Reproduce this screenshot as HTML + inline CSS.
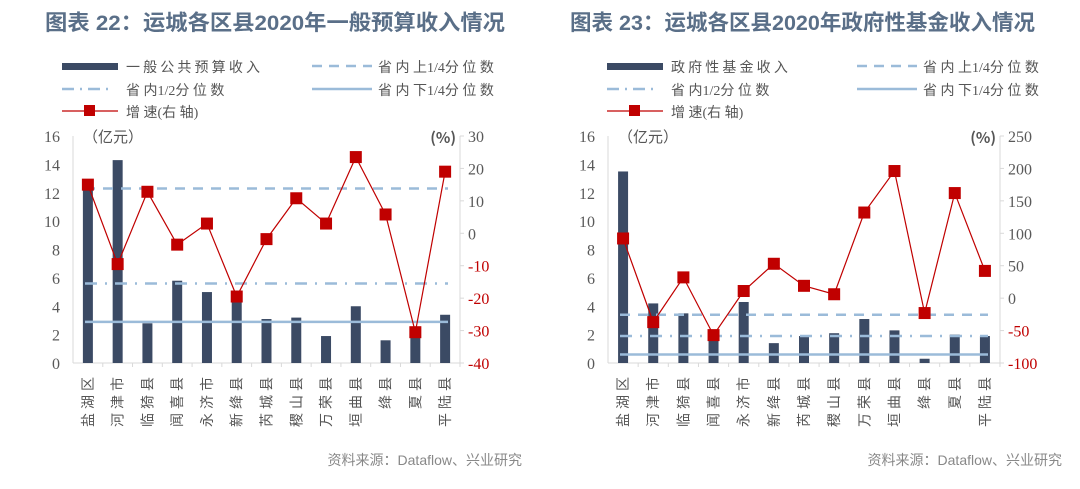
<!DOCTYPE html>
<html><head><meta charset="utf-8"><style>
body{margin:0;background:#fff;width:1080px;height:489px;overflow:hidden}
svg{display:block}
</style></head><body>
<svg id="s" width="1080" height="489" xmlns="http://www.w3.org/2000/svg" font-family="Liberation Serif, Noto Serif CJK SC, serif"></svg>
<script>
const s=document.getElementById('s');
let h='';
const labs=["盐湖区","河津市","临猗县","闻喜县","永济市","新绛县","芮城县","稷山县","万荣县","垣曲县","绛县","夏县","平陆县"];
function chart(o){
 const x0=o.x0,x1=o.x1,yT=136,yB=363;
 const yl=v=>yB-(v/16)*(yB-yT);
 const yr=v=>yB-(v-o.rmin)/(o.rmax-o.rmin)*(yB-yT);
 h+=`<text x="${o.tx}" y="30" font-family="Liberation Sans, Noto Sans CJK SC, sans-serif" font-size="21.5" font-weight="bold" fill="#5a6f88" textLength="${o.tw}" lengthAdjust="spacingAndGlyphs">${o.title}</text>`;
 const L=o.lx,C='#9bbbd9';
 h+=`<rect x="${L}" y="63" width="56" height="7" fill="#3b4a64"/>`;
 h+=`<text x="${L+64}" y="72" font-size="14" fill="#555" font-family="Noto Sans CJK SC, sans-serif">${o.leg1}</text>`;
 h+=`<line x1="${L+250}" y1="66" x2="${L+310}" y2="66" stroke="${C}" stroke-width="2.5" stroke-dasharray="10,7"/>`;
 h+=`<text x="${L+316}" y="72" font-size="14" fill="#555" font-family="Liberation Serif, Noto Sans CJK SC, serif">省 内 上1/4分 位 数</text>`;
 h+=`<line x1="${L}" y1="89" x2="${L+50}" y2="89" stroke="${C}" stroke-width="2.5" stroke-dasharray="12,6,2,6"/>`;
 h+=`<text x="${L+64}" y="95" font-size="14" fill="#555" font-family="Liberation Serif, Noto Sans CJK SC, serif">省 内1/2分 位 数</text>`;
 h+=`<line x1="${L+250}" y1="89" x2="${L+310}" y2="89" stroke="${C}" stroke-width="2.5"/>`;
 h+=`<text x="${L+316}" y="95" font-size="14" fill="#555" font-family="Liberation Serif, Noto Sans CJK SC, serif">省 内 下1/4分 位 数</text>`;
 h+=`<line x1="${L}" y1="111" x2="${L+56}" y2="111" stroke="#c00000" stroke-width="1.2"/><rect x="${L+22}" y="105" width="11" height="11" fill="#c00000"/>`;
 h+=`<text x="${L+64}" y="117" font-size="14" fill="#555" font-family="Liberation Serif, Noto Sans CJK SC, serif">增 速(右 轴)</text>`;
 h+=`<line x1="${x0}" y1="${yT}" x2="${x0}" y2="${yB}" stroke="#d9d9d9"/><line x1="${x1}" y1="${yT}" x2="${x1}" y2="${yB}" stroke="#d9d9d9"/><line x1="${x0}" y1="${yB}" x2="${x1}" y2="${yB}" stroke="#d9d9d9"/>`;
 for(let v=0;v<=16;v+=2){h+=`<text x="${x0-13}" y="${yl(v)+6}" text-anchor="end" font-size="16" fill="#595959">${v}</text>`;}
 for(let v=o.rmin;v<=o.rmax;v+=o.rstep){const y=yr(v);h+=`<line x1="${x1}" y1="${y}" x2="${x1+4}" y2="${y}" stroke="#d9d9d9"/><text x="${x1+8}" y="${y+6}" font-size="16" fill="${v<0?'#c00000':'#595959'}">${v}</text>`;}
 h+=`<text x="${x0+10}" y="${yT+6}" font-size="15" fill="#555" font-family="Noto Sans CJK SC, sans-serif">（亿元）</text>`;
 h+=`<text x="${x1-4}" y="${yT+7}" text-anchor="end" font-size="15" fill="#555" font-family="Noto Sans CJK SC, sans-serif" font-weight="bold">(%)</text>`;
 const w=(x1-x0)/13;
 const cx=i=>x0+w*(i+0.5);
 for(let i=0;i<13;i++){
  const y=yl(o.bars[i]);h+=`<rect x="${cx(i)-5}" y="${y}" width="10" height="${yB-y}" fill="#3b4a64"/>`;
  h+=`<line x1="${x0+w*(i+1)}" y1="${yB}" x2="${x0+w*(i+1)}" y2="${yB+4}" stroke="#d9d9d9"/>`;
  h+=`<text transform="translate(${cx(i)+5},373) rotate(-90)" text-anchor="end" font-size="14" fill="#555" font-family="Noto Sans CJK SC, sans-serif" letter-spacing="4">${labs[i]}</text>`;
 }
 const a=x0+12,b=x1-12;
 h+=`<line x1="${a}" y1="${yl(o.q[0])}" x2="${b}" y2="${yl(o.q[0])}" stroke="${C}" stroke-width="2.5" stroke-dasharray="10,8"/>`;
 h+=`<line x1="${a}" y1="${yl(o.q[1])}" x2="${b}" y2="${yl(o.q[1])}" stroke="${C}" stroke-width="2.5" stroke-dasharray="12,8,2,8"/>`;
 h+=`<line x1="${a}" y1="${yl(o.q[2])}" x2="${b}" y2="${yl(o.q[2])}" stroke="${C}" stroke-width="2.5"/>`;
 let p=o.g.map((v,i)=>cx(i)+','+yr(v)).join(' ');
 h+=`<polyline points="${p}" fill="none" stroke="#c00000" stroke-width="1.2"/>`;
 o.g.forEach((v,i)=>{h+=`<rect x="${cx(i)-6}" y="${yr(v)-6}" width="12" height="12" fill="#c00000"/>`;});
 h+=`<text x="${o.sx}" y="465" text-anchor="end" font-size="14" fill="#888" font-family="Liberation Sans, Noto Sans CJK SC, sans-serif">资料来源：Dataflow、兴业研究</text>`;
}
chart({x0:73,x1:460,tx:45,tw:460,title:"图表 22：运城各区县2020年一般预算收入情况",lx:62,leg1:"一 般 公 共 预 算 收 入",
 rmin:-40,rmax:30,rstep:10,
 bars:[12.5,14.3,2.8,5.8,5.0,4.4,3.1,3.2,1.9,4.0,1.6,2.0,3.4],
 g:[15,-9.5,12.8,-3.5,3,-19.5,-1.8,10.8,3,23.5,5.8,-30.5,19],q:[12.3,5.6,2.9],sx:522});
chart({x0:608,x1:1000,tx:570,tw:465,title:"图表 23：运城各区县2020年政府性基金收入情况",lx:607,leg1:"政 府 性 基 金 收 入",
 rmin:-100,rmax:250,rstep:50,
 bars:[13.5,4.2,3.5,1.8,4.3,1.4,1.9,2.1,3.1,2.3,0.3,2.0,1.9],
 g:[92,-37,32,-57,11,53,19,6,132,196,-23,162,42],q:[3.4,1.9,0.6],sx:1062});
s.innerHTML=h;
</script>
</body></html>
